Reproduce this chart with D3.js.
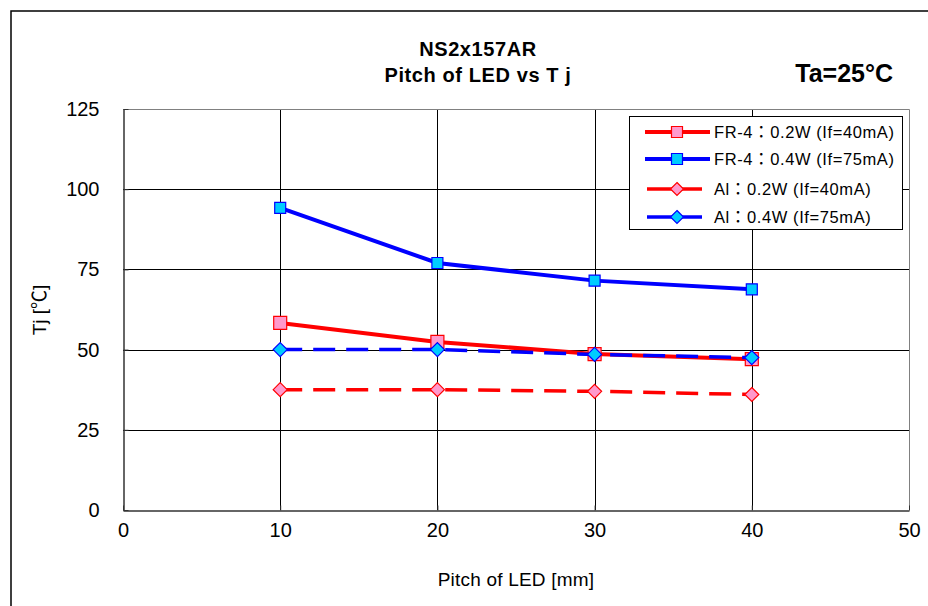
<!DOCTYPE html>
<html>
<head>
<meta charset="utf-8">
<script src="https://cdn.jsdelivr.net/npm/d3@7"></script>
<style>
  html, body { margin: 0; padding: 0; background: #fff; }
  svg { display: block; font-family: "Liberation Sans", Arial, "Noto Sans CJK JP", sans-serif; }
</style>
</head>
<body>
<div id="chart"></div>
<script>
// values
const pitches = [10, 20, 30, 40];
const fr4Low = [58.3, 52.4, 48.6, 47.0];
const fr4High = [94.2, 77.0, 71.5, 68.8];
const alLow = [37.5, 37.5, 37.0, 36.0];
const alHigh = [50.0, 50.0, 48.5, 47.5];
const seriesNames = [
  "FR-4：0.2W (If=40mA)",
  "FR-4：0.4W (If=75mA)",
  "Al：0.2W (If=40mA)",
  "Al：0.4W (If=75mA)"
];
const xTicks = [0, 10, 20, 30, 40, 50];
const yTicks = [0, 25, 50, 75, 100, 125];

const initPitchChart = () => {
  const width = 928, height = 606;
  const plot = { left: 123, top: 109, right: 909, bottom: 510 };

  const series = [
    { name: seriesNames[0], values: fr4Low, color: "#ff0000", fill: "#ff99cc", shape: "square", size: 13, dash: null },
    { name: seriesNames[1], values: fr4High, color: "#0000ff", fill: "#00ccff", shape: "square", size: 11, dash: null },
    { name: seriesNames[2], values: alLow, color: "#ff0000", fill: "#ff99cc", shape: "diamond", size: 14, dash: "22,11" },
    { name: seriesNames[3], values: alHigh, color: "#0000ff", fill: "#00ccff", shape: "diamond", size: 14, dash: "22,11" }
  ];

  const svg = d3.select("#chart")
    .append("svg")
    .attr("width", width)
    .attr("height", height);

  // outer chart border
  svg.append("rect")
    .attr("x", 11).attr("y", 11)
    .attr("width", 940).attr("height", 620)
    .attr("fill", "none")
    .attr("stroke", "#000")
    .attr("stroke-width", 1.5);

  const x = d3.scaleLinear().domain([0, 50]).range([plot.left, plot.right]);
  const y = d3.scaleLinear().domain([0, 125]).range([plot.bottom, plot.top]);

  // gridlines
  svg.append("g")
    .selectAll("line")
    .data(yTicks.slice(1, -1))
    .join("line")
    .attr("x1", plot.left).attr("x2", plot.right)
    .attr("y1", d => Math.round(y(d)) + 0.5).attr("y2", d => Math.round(y(d)) + 0.5)
    .attr("stroke", "#000");

  svg.append("g")
    .selectAll("line")
    .data(xTicks.slice(1, -1))
    .join("line")
    .attr("y1", plot.top).attr("y2", plot.bottom)
    .attr("x1", d => Math.round(x(d)) + 0.5).attr("x2", d => Math.round(x(d)) + 0.5)
    .attr("stroke", "#000");

  // plot frame: grey top/right, dark axes
  svg.append("path")
    .attr("d", `M${plot.left},${plot.top + 0.5}H${plot.right + 0.5}V${plot.bottom}`)
    .attr("fill", "none")
    .attr("stroke", "#808080");

  const xAxis = svg.append("g")
    .attr("transform", `translate(0,${plot.bottom + 0.5})`)
    .call(d3.axisBottom(x).tickValues(xTicks).tickSizeInner(-5).tickSizeOuter(0).tickPadding(24));

  const yAxis = svg.append("g")
    .attr("transform", `translate(${plot.left + 0.5},0)`)
    .call(d3.axisLeft(y).tickValues(yTicks).tickSizeInner(-5).tickSizeOuter(0).tickPadding(24));

  [xAxis, yAxis].forEach(a => {
    a.select(".domain").attr("stroke", "#333").attr("stroke-width", 1.5);
    a.selectAll(".tick line").attr("stroke", "#333");
    a.selectAll(".tick text")
      .attr("fill", "#000")
      .attr("font-size", 20)
      .attr("font-family", "Liberation Sans, Arial, sans-serif");
  });
  xAxis.selectAll(".tick text").attr("dy", "0.1em");

  // titles
  svg.append("text")
    .attr("x", 478).attr("y", 56)
    .attr("text-anchor", "middle")
    .attr("font-size", 20).attr("font-weight", "bold")
    .attr("letter-spacing", 0.6)
    .text("NS2x157AR");

  svg.append("text")
    .attr("x", 478).attr("y", 82)
    .attr("text-anchor", "middle")
    .attr("font-size", 20).attr("font-weight", "bold")
    .attr("letter-spacing", 0.6)
    .text("Pitch of LED vs T j");

  svg.append("text")
    .attr("x", 893).attr("y", 82)
    .attr("text-anchor", "end")
    .attr("font-size", 25).attr("font-weight", "bold")
    .text("Ta=25°C");

  svg.append("text")
    .attr("x", 516).attr("y", 586)
    .attr("text-anchor", "middle")
    .attr("font-size", 19)
    .attr("letter-spacing", 0.2)
    .text("Pitch of LED [mm]");

  svg.append("text")
    .attr("transform", "translate(46,310) rotate(-90)")
    .attr("text-anchor", "middle")
    .attr("font-size", 19)
    .text("Tj [℃]");

  const markerPath = (shape, size) => {
    const h = size / 2;
    return shape === "square"
      ? `M${-h},${-h}H${h}V${h}H${-h}Z`
      : `M0,${-h}L${h},0L0,${h}L${-h},0Z`;
  };

  const line = d3.line()
    .x((d, i) => x(pitches[i]))
    .y(d => y(d));

  series.forEach(s => {
    const g = svg.append("g");
    g.append("path")
      .attr("d", line(s.values))
      .attr("fill", "none")
      .attr("stroke", s.color)
      .attr("stroke-width", s.dash ? 3.5 : 4)
      .attr("stroke-dasharray", s.dash);
    g.selectAll("path.mk")
      .data(s.values)
      .join("path")
      .attr("class", "mk")
      .attr("transform", (d, i) => `translate(${x(pitches[i])},${y(d)})`)
      .attr("d", markerPath(s.shape, s.size))
      .attr("fill", s.fill)
      .attr("stroke", s.color)
      .attr("stroke-width", 1.2);
  });

  // legend
  const legend = svg.append("g");
  legend.append("rect")
    .attr("x", 629.5).attr("y", 116.5)
    .attr("width", 273).attr("height", 113)
    .attr("fill", "#fff")
    .attr("stroke", "#000");

  const rowY = [132, 159, 189, 217];
  series.forEach((s, i) => {
    const row = legend.append("g").attr("transform", `translate(0,${rowY[i]})`);
    row.append("line")
      .attr("x1", s.dash ? 647 : 645).attr("x2", s.dash ? 702 : 710)
      .attr("stroke", s.color)
      .attr("stroke-width", s.dash ? 3.5 : 4);
    row.append("path")
      .attr("transform", "translate(677,0)")
      .attr("d", markerPath(s.shape, s.shape === "square" ? 11 : 13))
      .attr("fill", s.fill)
      .attr("stroke", s.color)
      .attr("stroke-width", 1.2);
    row.append("text")
      .attr("x", 714).attr("dy", "0.36em")
      .attr("font-size", 16.5)
      .attr("letter-spacing", 0.6)
      .text(s.name);
  });
};

initPitchChart();
</script>
</body>
</html>
